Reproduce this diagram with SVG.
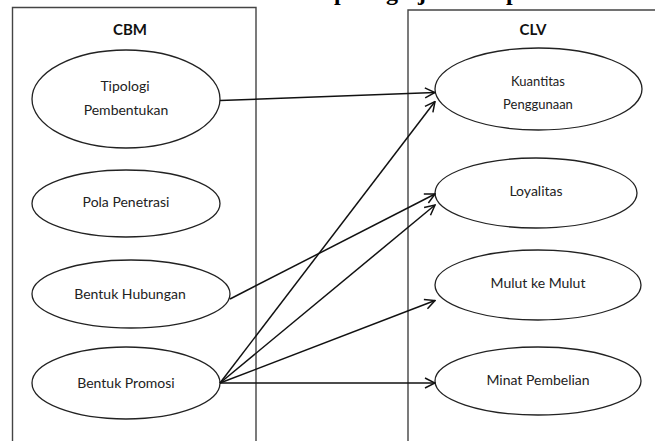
<svg xmlns="http://www.w3.org/2000/svg" width="655" height="441" viewBox="0 0 655 441">
<defs>
<marker id="arr" viewBox="0 0 12 12" refX="11" refY="6" markerWidth="12" markerHeight="12" markerUnits="userSpaceOnUse" orient="auto">
<path d="M1,1 L11,6 L1,11" fill="none" stroke="#111" stroke-width="1.5"/>
</marker>
<style>
.box{fill:none;stroke:#444;stroke-width:1.4}
.el{fill:#fff;stroke:#222;stroke-width:1.3}
.t{font-family:Lato,"Open Sans",sans-serif;font-size:14px;fill:#222;text-anchor:middle}
.h{font-family:Lato,"Open Sans",sans-serif;font-size:15px;font-weight:bold;fill:#111;text-anchor:middle}
.s{font-size:13px}
.c{fill:none;stroke:#111;stroke-width:1.5;marker-end:url(#arr)}
.top{font-family:"Liberation Serif",serif;font-size:24px;font-weight:bold;fill:#000}
</style>
</defs>
<rect width="655" height="441" fill="#fff"/>
<text class="top" y="0"><tspan x="334">p</tspan><tspan x="386">g</tspan><tspan x="418">j</tspan><tspan x="506">p</tspan></text>
<g id="cbm-box">
<path class="box" d="M12.5,460 V7.5 H256 V460"/>
<text class="h" x="130" y="35">CBM</text>
</g>
<g id="clv-box">
<path class="box" d="M408,460 V10 H680"/>
<text class="h" x="533" y="35">CLV</text>
</g>
<g id="tipologi">
<ellipse class="el" cx="126" cy="99" rx="94" ry="49"/>
<text class="t" x="125" y="91">Tipologi</text>
<text class="t" x="126" y="115">Pembentukan</text>
</g>
<g id="pola">
<ellipse class="el" cx="126" cy="203.5" rx="94" ry="33.5"/>
<text class="t" x="126" y="207">Pola Penetrasi</text>
</g>
<g id="hubungan">
<ellipse class="el" cx="131" cy="294" rx="99" ry="34"/>
<text class="t" x="130" y="299">Bentuk Hubungan</text>
</g>
<g id="promosi">
<ellipse class="el" cx="126" cy="383" rx="94" ry="36"/>
<text class="t" x="126" y="388">Bentuk Promosi</text>
</g>
<g id="kuantitas">
<ellipse class="el" cx="538.5" cy="89" rx="103.5" ry="41"/>
<text class="t s" x="538" y="86">Kuantitas</text>
<text class="t s" x="538" y="109">Penggunaan</text>
</g>
<g id="loyalitas">
<ellipse class="el" cx="536" cy="193" rx="101" ry="35"/>
<text class="t" x="536" y="196">Loyalitas</text>
</g>
<g id="mulut">
<ellipse class="el" cx="538" cy="285" rx="103" ry="35"/>
<text class="t" x="538" y="288">Mulut ke Mulut</text>
</g>
<g id="minat">
<ellipse class="el" cx="538" cy="381" rx="103" ry="34"/>
<text class="t" x="538" y="385">Minat Pembelian</text>
</g>
<g id="connectors">
<line class="c" x1="220" y1="100.5" x2="435" y2="92.5"/>
<line class="c" x1="220" y1="383" x2="435" y2="101.5"/>
<line class="c" x1="230" y1="299" x2="435" y2="194"/>
<line class="c" x1="220" y1="383" x2="435" y2="205"/>
<line class="c" x1="220" y1="383" x2="435" y2="300.5"/>
<line class="c" x1="220" y1="383" x2="435" y2="383"/>
</g>
</svg>
